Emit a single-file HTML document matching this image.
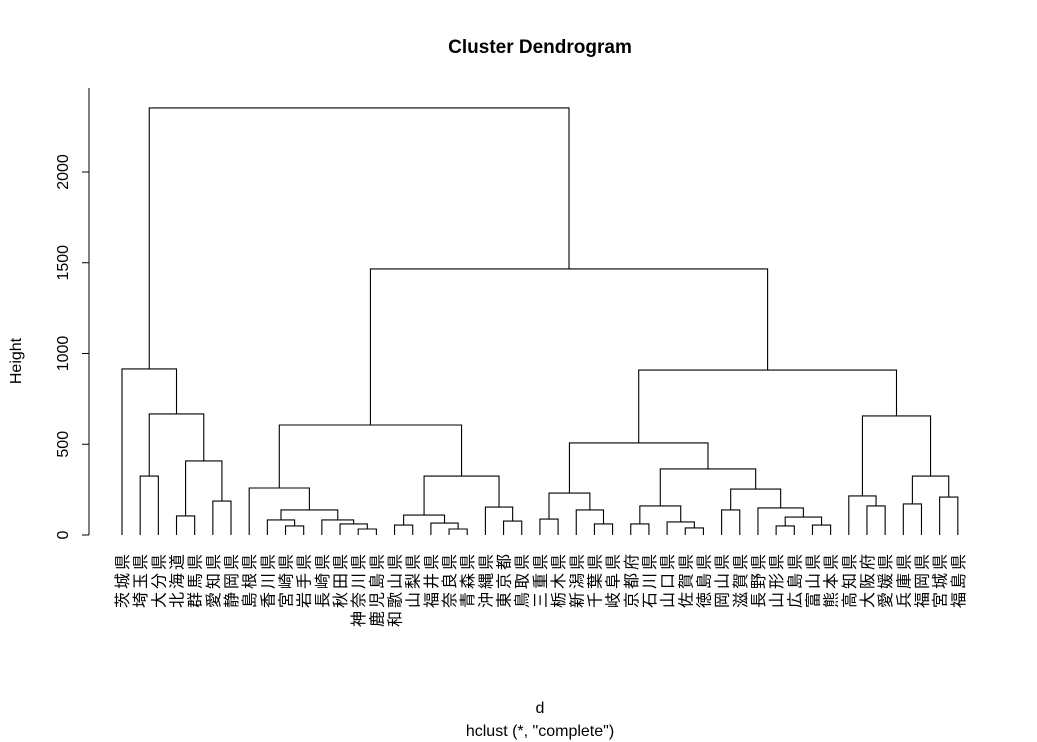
<!DOCTYPE html>
<html><head><meta charset="utf-8">
<style>
html,body{margin:0;padding:0;background:#fff;}
svg{display:block;}
text{font-family:"Liberation Sans","Noto Sans CJK JP",sans-serif;fill:#000;}
</style></head>
<body>
<svg id="chart" width="1037" height="742" viewBox="0 0 1037 742" xmlns="http://www.w3.org/2000/svg">
  <text x="540" y="53" text-anchor="middle" font-size="19" font-weight="bold">Cluster Dendrogram</text>
  <text x="540" y="713" text-anchor="middle" font-size="16">d</text>
  <text x="540" y="736" text-anchor="middle" font-size="16">hclust (*, "complete")</text>
  <text x="0" y="0" transform="translate(21,361) rotate(-90)" text-anchor="middle" font-size="16">Height</text>
  <g id="axis"></g>
  <g id="tree"></g>
  <g id="labels"></g>
</svg>
<script>
const labels = ["茨城県","埼玉県","大分県","北海道","群馬県","愛知県","静岡県","島根県","香川県","宮崎県","岩手県","長崎県","秋田県","神奈川県","鹿児島県","和歌山県","山梨県","福井県","奈良県","青森県","沖縄県","東京都","鳥取県","三重県","栃木県","新潟県","千葉県","岐阜県","京都府","石川県","山口県","佐賀県","徳島県","岡山県","滋賀県","長野県","山形県","広島県","富山県","熊本県","高知県","大阪府","愛媛県","兵庫県","福岡県","宮城県","福島県"];
// R-style merges: negative = leaf (1-based), positive = earlier merge (1-based)
const mergeLeft  = [-4,-6,1,-2,4,-1,-10,-9,-14,-13,-12,8,-8,-16,-19,-18,14,-22,-21,17,13,-24,-27,-26,22,-29,-32,-31,26,-34,-37,-39,31,-36,30,29,25,-42,-41,-44,-46,40,39,37,21,6];
const mergeRight = [-5,-7,2,-3,3,5,-11,7,-15,9,10,11,12,-17,-20,15,16,-23,18,19,20,-25,-28,23,24,-30,-33,27,28,-35,-38,-40,32,33,34,35,36,-43,38,-45,-47,41,42,43,44,45];
const heights    = [105,187,408,325,667,915,50,83,33,61,83,138,259,55,33,66,110,77,154,325,606,88,61,138,231,61,39,72,160,138,50,55,99,149,253,364,507,160,215,171,209,325,656,909,1466,2353];
const yTicks = [0,500,1000,1500,2000];

const NS="http://www.w3.org/2000/svg";
const X0=122, XSTEP=18.17, Y0=535, PXU=363/2000;
const xScale = i => X0 + XSTEP*i;
const yScale = h => Y0 - h*PXU;

function mk(tag, attrs, parent){
  const e=document.createElementNS(NS,tag);
  for(const k in attrs) e.setAttribute(k,attrs[k]);
  parent.appendChild(e); return e;
}

const ax=document.getElementById('axis');
const axLine = mk('line',{x1:89,x2:89,y1:88,y2:Y0,stroke:'#000','stroke-width':1},ax);


yTicks.forEach(t=>{
  const y=yScale(t);
  const tk=mk('line',{x1:82,x2:89,y1:y,y2:y,stroke:'#000','stroke-width':1},ax);
  
  
  const tx=mk('text',{x:0,y:0,transform:`translate(68,${y}) rotate(-90)`,'text-anchor':'middle','font-size':16},ax);
  tx.textContent=String(t);
  
  
});

const order=[];
function walk(ref){
  if(ref<0){order.push(-ref-1);return;}
  walk(mergeLeft[ref-1]); walk(mergeRight[ref-1]);
}
walk(mergeLeft.length);
const leafPos={};
order.forEach((leaf,i)=>leafPos[leaf]=i);

const tree=document.getElementById('tree');
const nodeX=[], nodeH=[];
function refX(r){return r<0? xScale(leafPos[-r-1]) : nodeX[r-1];}
function refH(r){return r<0? 0 : nodeH[r-1];}
for(let m=0;m<heights.length;m++){
  const l=mergeLeft[m], r=mergeRight[m], h=heights[m];
  const xl=refX(l), xr=refX(r), yh=yScale(h);
  const p=mk('path',{d:`M${xl},${yScale(refH(l))}V${yh}H${xr}V${yScale(refH(r))}`,fill:'none',stroke:'#000','stroke-width':1.1},tree);
  
  
  nodeX.push((xl+xr)/2); nodeH.push(h);
}

const lg=document.getElementById('labels');
order.forEach((leaf,i)=>{
  const x=xScale(i);
  const t=mk('text',{x:0,y:0,transform:`translate(${x+6},551) rotate(-90)`,'text-anchor':'end','font-size':16,'letter-spacing':3},lg);
  t.textContent=labels[leaf];
  
  
});
</script>
</body></html>
